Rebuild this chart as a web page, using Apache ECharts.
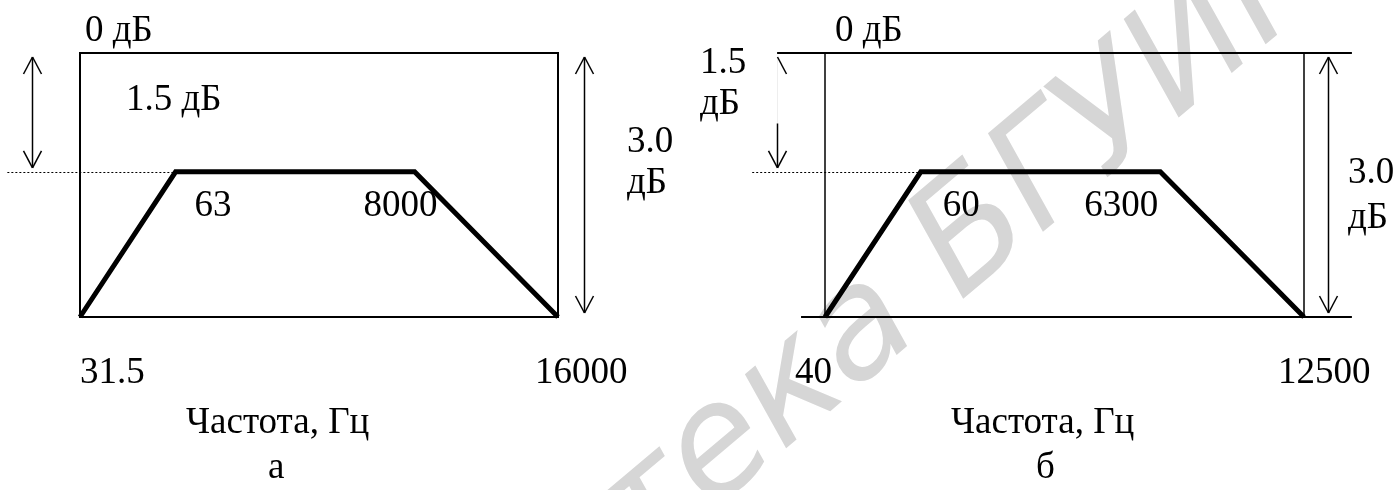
<!DOCTYPE html>
<html>
<head>
<meta charset="utf-8">
<script src="https://cdn.jsdelivr.net/npm/echarts@6/dist/echarts.min.js"></script>
<style>
html, body { margin: 0; padding: 0; background: #fff; }
#chart { width: 1397px; height: 490px; }
</style>
</head>
<body>
<div id="chart"></div>
<script>
// schematic position of the corner frequencies along the axis (0..10)
const cornerPos = [0, 2, 7, 10];
// corner frequencies, Hz
const freqA = ['31.5', '63', '8000', '16000'];
const freqB = ['40', '60', '6300', '12500'];
// response level at the corners, dB (plateau)
const levelA = [-3, -1.35, -1.35, -3];
const levelB = [-3, -1.35, -1.35, -3];
const dbTop = 0;
const dbBottom = -3;
// where the tolerance arrows stand, in axis units
const arrowXA = [-1.0, 10.55];
const arrowXB = [-1.0, 10.5];
// start of the dotted plateau guide
const guideStart = -1.52;
// right panel: horizontal frame lines run past the box
const topLineB = [-1.0, 11.0];
const bottomLineB = [-0.5, 11.0];
const axisName = 'Частота, Гц';
const panelNames = ['а', 'б'];

const FONT = "'Liberation Serif', 'Times New Roman', serif";

const chart = echarts.init(document.getElementById('chart'));

const xy = (pos, lev) => pos.map((p, i) => [p, lev[i]]);

option = {
    backgroundColor: '#FFFFFF',
    animation: false,
    grid: [
        { left: 80, top: 53, width: 478, height: 264, show: true, borderColor: '#000', borderWidth: 2 },
        { left: 825, top: 53, width: 479, height: 264 }
    ],
    xAxis: [0, 1].map(i => ({ type: 'value', gridIndex: i, min: 0, max: 10, show: false })),
    yAxis: [0, 1].map(i => ({ type: 'value', gridIndex: i, min: dbBottom, max: dbTop, show: false })),
    series: [
        // frequency response trapezoids
        { type: 'line', xAxisIndex: 0, yAxisIndex: 0, data: xy(cornerPos, levelA), symbol: 'none',
          lineStyle: { color: '#000', width: 5, join: 'miter' }, z: 5 },
        { type: 'line', xAxisIndex: 1, yAxisIndex: 1, data: xy(cornerPos, levelB), symbol: 'none',
          lineStyle: { color: '#000', width: 5, join: 'miter' }, z: 5 }
    ]
};

chart.setOption(option);

// ---- annotations, placed through the grids' scales ----
const px = (g, x, y) => chart.convertToPixel({ gridIndex: g }, [x, y]);

function txt(x, y, s) {
    return {
        type: 'text', x: x, y: y, z: 100,
        style: { text: s, font: '37px ' + FONT, fill: '#000', align: 'left', verticalAlign: 'middle' }
    };
}
function seg(a, b, w, color, dash) {
    return { type: 'line', z: 90, shape: { x1: a[0], y1: a[1], x2: b[0], y2: b[1] },
             style: { stroke: color || '#000', lineWidth: w, lineDash: dash || null } };
}
function head(tip, dir, half) {
    // open V arrow head, dir = -1 points up, 1 points down
    let h = [];
    if (half !== 'right') h.push(seg([tip[0] - 9, tip[1] - dir * 17], tip, 1.5));
    if (half !== 'left') h.push(seg([tip[0] + 9, tip[1] - dir * 17], tip, 1.5));
    return h;
}
function dblArrow(g, x, y1, y2) {
    let a = px(g, x, y1), b = px(g, x, y2);
    a = [Math.round(a[0]) + 0.5, a[1] + 4];
    b = [Math.round(b[0]) + 0.5, b[1] - 4];
    return [seg(a, b, 1.5)].concat(head(a, -1), head(b, 1));
}

let g = [];

// watermark
g.push({
    type: 'text', x: 738, y: 437, rotation: 0.70, z: 0,
    style: { text: 'Библиотека БГУИР', font: 'italic 152px "DejaVu Sans", sans-serif',
             fill: '#d6d6d6', align: 'center', verticalAlign: 'middle' }
});

// dotted guides at the plateau level
[levelA, levelB].forEach((lev, p) => {
    const a = px(p, guideStart, lev[1]), b = px(p, cornerPos[1], lev[1]);
    g.push(seg([a[0], Math.round(a[1]) + 0.5], [b[0], Math.round(b[1]) + 0.5], 1, '#000', [2, 2]));
});

// right panel frame
g.push(seg(px(1, topLineB[0], dbTop), px(1, topLineB[1], dbTop), 2));
g.push(seg(px(1, bottomLineB[0], dbBottom), px(1, bottomLineB[1], dbBottom), 2));
g.push(seg(px(1, cornerPos[0], dbTop), px(1, cornerPos[0], dbBottom), 1.5));
g.push(seg(px(1, cornerPos[3], dbTop), px(1, cornerPos[3], dbBottom), 1.5));

// tolerance arrows
g = g.concat(dblArrow(0, arrowXA[0], dbTop, levelA[1]));
g = g.concat(dblArrow(0, arrowXA[1], dbTop, dbBottom));
g = g.concat(dblArrow(1, arrowXB[1], dbTop, dbBottom));
// right panel, left arrow: upper part of the shaft is washed out in the scan
(function () {
    let a = px(1, arrowXB[0], dbTop), b = px(1, arrowXB[0], levelB[1]);
    let x = Math.round(a[0]) + 0.5, top = a[1] + 4, bot = b[1] - 4;
    let mid = top + (bot - top) * 0.6;
    g.push(seg([x, top], [x, mid], 1, '#eeeeee'));
    g.push(seg([x, mid], [x, bot], 1.5));
    g = g.concat(head([x, top], -1, 'right'), head([x, bot], 1));
})();

// level labels
g.push(txt(85, 31, '0 дБ'));
g.push(txt(126, 100, '1.5 дБ'));
g.push(txt(627, 142, '3.0'));
g.push(txt(627, 183, 'дБ'));
g.push(txt(835, 31, '0 дБ'));
g.push(txt(700, 63, '1.5'));
g.push(txt(700, 104, 'дБ'));
g.push(txt(1348, 173, '3.0'));
g.push(txt(1348, 218, 'дБ'));

// frequency labels next to their corners
const labelDx = [[0, 19, -51, -23], [-30, 22, -76, -26]];
const labelY = [373, 206, 206, 373];
[freqA, freqB].forEach((fr, p) => {
    fr.forEach((f, i) => {
        const c = px(p, cornerPos[i], (p ? levelB : levelA)[i]);
        g.push(txt(c[0] + labelDx[p][i], labelY[i], f));
    });
});

// axis names and panel letters
g.push(txt(186, 423, axisName));
g.push(txt(951, 423, axisName));
g.push(txt(268, 468, panelNames[0]));
g.push(txt(1036, 468, panelNames[1]));

chart.setOption({ graphic: g });
</script>
</body>
</html>
